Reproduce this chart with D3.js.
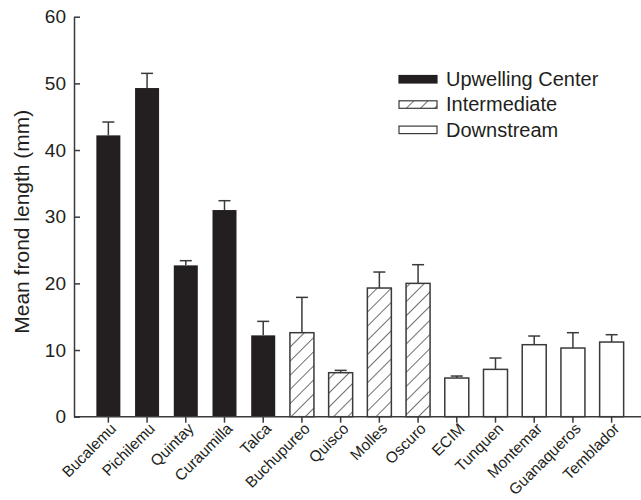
<!DOCTYPE html>
<html>
<head>
<meta charset="utf-8">
<script src="https://cdn.jsdelivr.net/npm/d3@7"></script>
<style>
  html, body { margin: 0; padding: 0; background: #fff; }
  svg { display: block; }
  text { font-family: "Liberation Sans", Arial, Helvetica, sans-serif; fill: #231f20; }
</style>
</head>
<body>
<svg id="chart" width="641" height="500"></svg>
<script>
// Sites, grouped by position relative to the upwelling center
const sites = ["Bucalemu", "Pichilemu", "Quintay", "Curaumilla", "Talca",
  "Buchupureo", "Quisco", "Molles", "Oscuro",
  "ECIM", "Tunquen", "Montemar", "Guanaqueros", "Temblador"];
const groups = ["up", "up", "up", "up", "up",
  "mid", "mid", "mid", "mid",
  "down", "down", "down", "down", "down"];
// Mean frond length (mm) and standard error per site
const means = [42.2, 49.3, 22.7, 31.0, 12.2, 12.6, 6.6, 19.3, 20.0, 5.8, 7.1, 10.8, 10.3, 11.2];
const errors = [2.0, 2.2, 0.7, 1.4, 2.1, 5.3, 0.35, 2.4, 2.8, 0.3, 1.7, 1.3, 2.3, 1.1];
const yTicks = [0, 10, 20, 30, 40, 50, 60];
const legendKeys = ["up", "mid", "down"];
const legendLabels = ["Upwelling Center", "Intermediate", "Downstream"];

const svg = d3.select("#chart");
const ink = "#231f20";
const lineInk = "#3a3a3a";

// Diagonal hatching for the intermediate group
const defs = svg.append("defs");
const pat = defs.append("pattern")
  .attr("id", "hatch")
  .attr("patternUnits", "userSpaceOnUse")
  .attr("width", 10).attr("height", 10)
  .attr("patternTransform", "rotate(45)");
pat.append("rect").attr("width", 10).attr("height", 10).attr("fill", "#fff");
pat.append("line")
  .attr("x1", 0).attr("y1", 0).attr("x2", 0).attr("y2", 10)
  .attr("stroke", ink).attr("stroke-width", 1.3);

const fillFor = g => g === "up" ? ink : (g === "mid" ? "url(#hatch)" : "#fff");

const x = d3.scaleBand().domain(sites).range([89, 631]).paddingInner(0.38).paddingOuter(0.19);
const y = d3.scaleLinear().domain([0, 60]).range([416.7, 16.7]);

// Bars
svg.append("g").selectAll("rect").data(sites).join("rect")
  .attr("x", d => x(d))
  .attr("width", x.bandwidth())
  .attr("y", (d, i) => y(means[i]))
  .attr("height", (d, i) => y(0) - y(means[i]))
  .attr("fill", (d, i) => fillFor(groups[i]))
  .attr("stroke", (d, i) => groups[i] === "up" ? "none" : lineInk)
  .attr("stroke-width", 1.5);

// Upper error bars
const eb = svg.append("g").attr("stroke", lineInk).attr("stroke-width", 1.5);
sites.forEach((s, i) => {
  const cx = x(s) + x.bandwidth() / 2;
  eb.append("line").attr("x1", cx).attr("x2", cx)
    .attr("y1", y(means[i])).attr("y2", y(means[i] + errors[i]));
  eb.append("line").attr("x1", cx - 6).attr("x2", cx + 6)
    .attr("y1", y(means[i] + errors[i])).attr("y2", y(means[i] + errors[i]));
});

// Y axis: ticks point inward
const yAxis = svg.append("g").attr("transform", "translate(74,0)")
  .call(d3.axisLeft(y).tickValues(yTicks).tickSizeInner(-6).tickSizeOuter(0).tickPadding(8));
yAxis.select(".domain").attr("stroke", lineInk).attr("stroke-width", 1.5);
yAxis.selectAll(".tick line").attr("stroke", lineInk).attr("stroke-width", 1.5);
yAxis.selectAll(".tick text").attr("font-size", 19).attr("fill", ink)
  .style("font-family", "'Liberation Sans', Arial, sans-serif");

// X axis with rotated site names
const xAxis = svg.append("g").attr("transform", `translate(0,${y(0)})`)
  .call(d3.axisBottom(x).tickSizeInner(6).tickSizeOuter(0).tickPadding(4));
xAxis.select(".domain").remove();
xAxis.selectAll(".tick line").attr("stroke", lineInk).attr("stroke-width", 1.5);
xAxis.selectAll(".tick text")
  .attr("font-size", 15.5).attr("fill", ink)
  .style("font-family", "'Liberation Sans', Arial, sans-serif")
  .attr("text-anchor", "end")
  .attr("dy", "0.35em")
  .attr("transform", "translate(5,9) rotate(-45)")
  .attr("y", 0).attr("x", 0);
svg.append("line")
  .attr("x1", 74).attr("x2", 641).attr("y1", y(0)).attr("y2", y(0))
  .attr("stroke", lineInk).attr("stroke-width", 1.5);

// Y axis title
svg.append("text")
  .attr("transform", `translate(29,${(y(0) + y(60)) / 2 + 5}) rotate(-90)`)
  .attr("text-anchor", "middle")
  .attr("font-size", 21)
  .text("Mean frond length (mm)");

// Legend
const lg = svg.append("g").attr("transform", "translate(399,75.5)");
legendKeys.forEach((k, i) => {
  const row = lg.append("g").attr("transform", `translate(0,${i * 25.3})`);
  row.append("rect").attr("width", 38).attr("height", 7.5)
    .attr("fill", fillFor(k))
    .attr("stroke", k === "up" ? ink : lineInk).attr("stroke-width", 1.2);
  row.append("text").attr("x", 47).attr("y", 10.5).attr("font-size", 20)
    .text(legendLabels[i]);
});
</script>
</body>
</html>
